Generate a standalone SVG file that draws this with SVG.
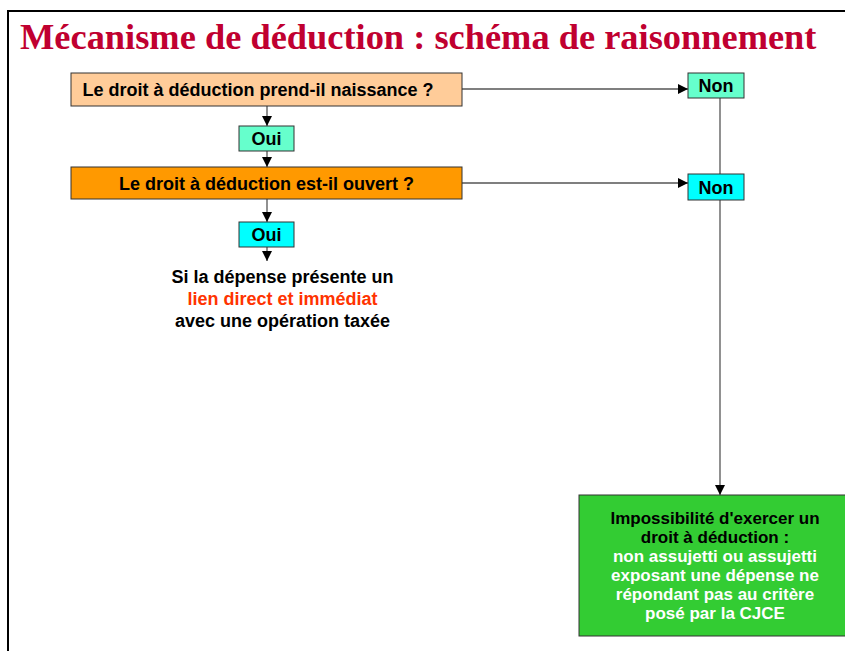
<svg xmlns="http://www.w3.org/2000/svg" width="845" height="651" viewBox="0 0 845 651">
<defs>
<marker id="ah" markerWidth="10" markerHeight="10" refX="10" refY="5" orient="auto" markerUnits="userSpaceOnUse">
<path d="M0,0 L10,5 L0,10 Z" fill="#000"/>
</marker>
<style>
.t{font-family:"Liberation Sans",Arial,sans-serif;font-weight:bold;font-size:18px;fill:#000;text-anchor:middle}
.g{font-size:17px}
.box{stroke:#333;stroke-width:1}
.ln{stroke:#555;stroke-width:1.3;fill:none}
.w{fill:#fff}
.red{fill:#FF3300}
</style>
</defs>
<rect x="0" y="0" width="845" height="651" fill="#fff"/>
<path d="M8,660 V11 H850" fill="none" stroke="#000" stroke-width="2"/>
<text x="20" y="49" font-family="'Liberation Serif','Times New Roman',serif" font-weight="bold" font-size="36.4" fill="#C00030">Mécanisme de déduction : schéma de raisonnement</text>

<g id="connectors">
<line class="ln" x1="267" y1="106" x2="267" y2="126" marker-end="url(#ah)"/>
<line class="ln" x1="267" y1="151" x2="267" y2="167" marker-end="url(#ah)"/>
<line class="ln" x1="267" y1="199" x2="267" y2="222" marker-end="url(#ah)"/>
<line class="ln" x1="267" y1="247" x2="267" y2="261" marker-end="url(#ah)"/>
<line class="ln" x1="462" y1="89" x2="688" y2="89" marker-end="url(#ah)"/>
<line class="ln" x1="462" y1="183" x2="688" y2="183" marker-end="url(#ah)"/>
<line class="ln" x1="720" y1="98" x2="720" y2="174"/>
<line class="ln" x1="720" y1="200" x2="720" y2="495" marker-end="url(#ah)"/>
</g>

<g id="q1">
<rect class="box" x="71" y="73" width="391" height="33" fill="#FFCC99"/>
<text class="t" x="258" y="96">Le droit à déduction prend-il naissance ?</text>
</g>
<g id="oui1">
<rect class="box" x="239" y="126" width="55" height="25" fill="#66FFCC"/>
<text class="t" x="266.5" y="145">Oui</text>
</g>
<g id="q2">
<rect class="box" x="71" y="167" width="391" height="32" fill="#FF9900"/>
<text class="t" x="266.5" y="189.5">Le droit à déduction est-il ouvert ?</text>
</g>
<g id="oui2">
<rect class="box" x="239" y="222" width="55" height="25" fill="#00FFFF"/>
<text class="t" x="266.5" y="241">Oui</text>
</g>
<g id="non1">
<rect class="box" x="688" y="73" width="56" height="25" fill="#66FFCC"/>
<text class="t" x="716" y="92">Non</text>
</g>
<g id="non2">
<rect class="box" x="688" y="174" width="56" height="26" fill="#00FFFF"/>
<text class="t" x="716" y="193.5">Non</text>
</g>
<g id="condition">
<text class="t" x="282.5" y="283">Si la dépense présente un</text>
<text class="t red" x="282.5" y="304.5">lien direct et immédiat</text>
<text class="t" x="282.5" y="326.5">avec une opération taxée</text>
</g>
<g id="result">
<rect class="box" x="579" y="495" width="270" height="141" fill="#33CC33"/>
<text class="t g" x="715" y="524">Impossibilité d'exercer un</text>
<text class="t g" x="715" y="543">droit à déduction :</text>
<text class="t g w" x="715" y="562">non assujetti ou assujetti</text>
<text class="t g w" x="715" y="581">exposant une dépense ne</text>
<text class="t g w" x="715" y="600">répondant pas au critère</text>
<text class="t g w" x="715" y="619">posé par la CJCE</text>
</g>
</svg>
